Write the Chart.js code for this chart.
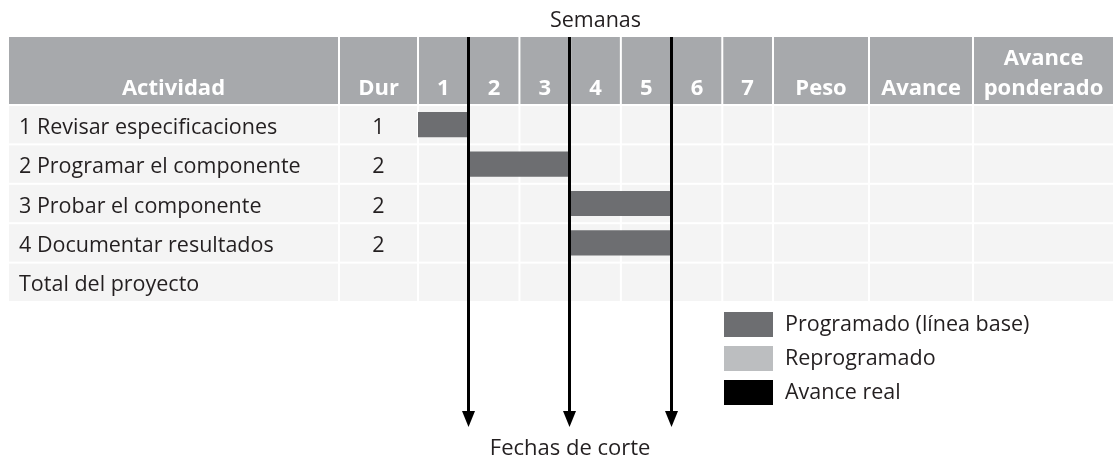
<!DOCTYPE html>
<html>
<head>
<meta charset="utf-8">
<script src="https://cdn.jsdelivr.net/npm/chart.js@4"></script>
<style>
  body { margin: 0; background: #fff; }
  canvas { display: block; }
</style>
</head>
<body>
<canvas id="gantt" width="1119" height="460"></canvas>
<script>
// Data
const activities = ["1 Revisar especificaciones", "2 Programar el componente", "3 Probar el componente", "4 Documentar resultados", "Total del proyecto"];
const durations = [1, 2, 2, 2, null];
const startWeek = [0, 1, 3, 3, null];
const endWeek = [1, 3, 5, 5, null];
const weekLabels = ["1", "2", "3", "4", "5", "6", "7"];
const cutWeeks = [1, 3, 5];
const legendLabels = ["Programado (línea base)", "Reprogramado", "Avance real"];
const legendColors = ["#6d6e71", "#bcbec0", "#000000"];

const FONT = "'Open Sans', 'Noto Sans', sans-serif";
const TEXT = "#231f20";
const HEADER_TOP = 37;
// left columns and right columns, pixel edges
const leftCols = [{ x0: 8, x1: 339, label: ["Actividad"] }, { x0: 339, x1: 418, label: ["Dur"] }];
const rightCols = [{ x0: 773, x1: 869, label: ["Peso"] }, { x0: 869, x1: 973, label: ["Avance"] }, { x0: 973, x1: 1114, label: ["Avance", "ponderado"] }];

const tablePlugin = {
  id: "table",
  beforeDatasetsDraw(chart) {
    const ctx = chart.ctx;
    const x = chart.scales.x, y = chart.scales.y;
    const area = chart.chartArea;
    const rowH = (area.bottom - area.top) / activities.length;
    const cols = [...leftCols];
    weekLabels.forEach((w, i) => cols.push({ x0: x.getPixelForValue(i), x1: x.getPixelForValue(i + 1), label: [w] }));
    rightCols.forEach(c => cols.push(c));

    ctx.save();
    ctx.textBaseline = "alphabetic";
    // header
    cols.forEach(c => {
      ctx.fillStyle = "#a7a9ac";
      ctx.fillRect(c.x0 + 1, HEADER_TOP, c.x1 - c.x0 - 2, area.top - HEADER_TOP - 1);
      ctx.fillStyle = "#fff";
      ctx.font = "bold 22px " + FONT;
      ctx.textAlign = "center";
      const cx = (c.x0 + c.x1) / 2;
      c.label.forEach((t, k) => {
        ctx.fillText(t, cx, 95 - (c.label.length - 1 - k) * 30);
      });
    });
    // body cells
    activities.forEach((a, r) => {
      const cy = y.getPixelForValue(r);
      const top = cy - rowH / 2;
      cols.forEach(c => {
        ctx.fillStyle = "#f4f4f4";
        ctx.fillRect(c.x0 + 1, top + 1, c.x1 - c.x0 - 2, rowH - 2);
      });
      ctx.fillStyle = TEXT;
      ctx.font = "21.5px " + FONT;
      ctx.textAlign = "left";
      ctx.fillText(a, 19, cy + 9);
      if (durations[r] != null) {
        ctx.textAlign = "center";
        ctx.fillText(String(durations[r]), (leftCols[1].x0 + leftCols[1].x1) / 2, cy + 9);
      }
    });
    // title
    ctx.fillStyle = TEXT;
    ctx.font = "21.5px " + FONT;
    ctx.textAlign = "center";
    ctx.fillText("Semanas", (x.getPixelForValue(0) + x.getPixelForValue(7)) / 2, 27);
    ctx.restore();
  },
  afterDatasetsDraw(chart) {
    const ctx = chart.ctx;
    const x = chart.scales.x;
    ctx.save();
    ctx.strokeStyle = "#000";
    ctx.fillStyle = "#000";
    ctx.lineWidth = 3;
    const tip = 427;
    cutWeeks.forEach(w => {
      const px = Math.round(x.getPixelForValue(w)) - 0.5;
      ctx.beginPath();
      ctx.moveTo(px, HEADER_TOP);
      ctx.lineTo(px, tip - 8);
      ctx.stroke();
      ctx.beginPath();
      ctx.moveTo(px - 6.5, tip - 16);
      ctx.lineTo(px + 6.5, tip - 16);
      ctx.lineTo(px, tip);
      ctx.closePath();
      ctx.fill();
    });
    ctx.fillStyle = TEXT;
    ctx.font = "22px " + FONT;
    ctx.textAlign = "center";
    ctx.textBaseline = "alphabetic";
    ctx.fillText("Fechas de corte", x.getPixelForValue(3), 455);

    // legend
    legendLabels.forEach((l, i) => {
      const top = 312 + i * 34;
      ctx.fillStyle = legendColors[i];
      ctx.fillRect(724, top, 49, 25);
      ctx.fillStyle = TEXT;
      ctx.font = "21.5px " + FONT;
      ctx.textAlign = "left";
      ctx.fillText(l, 785, top + 19);
    });
    ctx.restore();
  }
};

new Chart(document.getElementById("gantt"), {
  type: "bar",
  data: {
    labels: activities,
    datasets: [{
      label: legendLabels[0],
      data: startWeek.map((s, i) => s == null ? null : [s, endWeek[i]]),
      backgroundColor: legendColors[0],
      borderWidth: 0,
      barPercentage: 0.8,
      categoryPercentage: 0.8
    }]
  },
  options: {
    indexAxis: "y",
    responsive: false,
    animation: false,
    layout: { padding: { left: 418, right: 1119 - 773, top: 105, bottom: 460 - 302 } },
    plugins: { legend: { display: false }, tooltip: { enabled: false } },
    scales: {
      x: { type: "linear", min: 0, max: 7, display: false },
      y: { display: false }
    }
  },
  plugins: [tablePlugin]
});
</script>
</body>
</html>
